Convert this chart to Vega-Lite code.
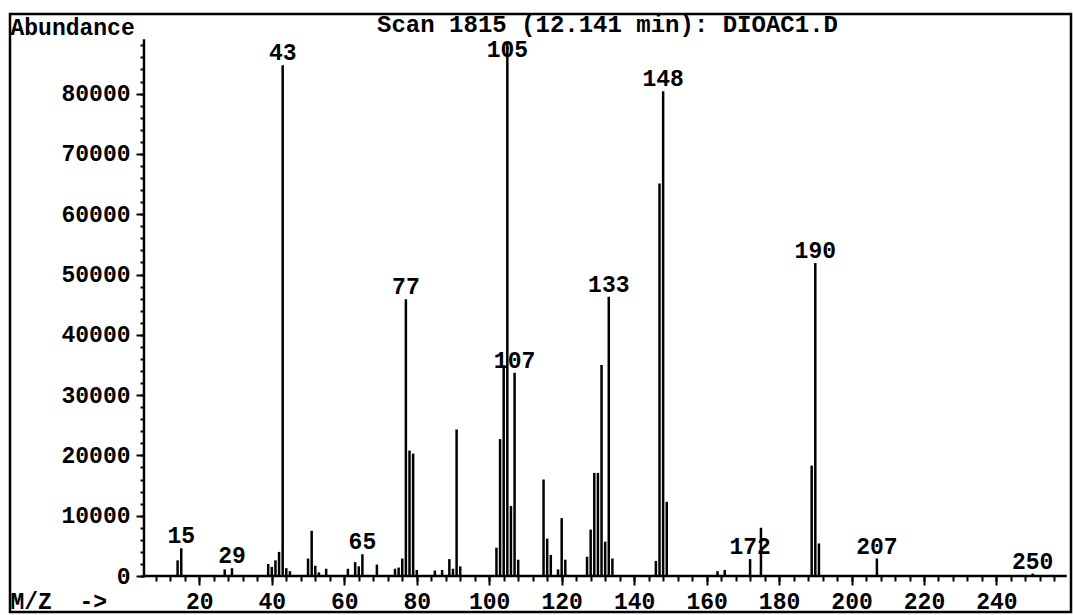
{
  "$schema": "https://vega.github.io/schema/vega-lite/v6.json",
  "width": 1061,
  "height": 598,
  "autosize": {"type": "none"},
  "padding": {"left": 10, "top": 14, "right": 2, "bottom": 3},
  "background": "white",
  "title": {"text": "Scan 1815 (12.141 min): DIOAC1.D", "anchor": "middle", "offset": -42, "baseline": "alphabetic", "dx": 67, "font": "Liberation Mono", "fontSize": 24, "fontWeight": "bold", "color": "black"},
  "config": {"view": {"stroke": "black", "strokeWidth": 2.5}},
  "resolve": {"axis": {"x": "independent", "y": "independent"}},
  "datasets": {
    "peaks": [
      {"mz": 14, "abundance": 2600, "labelled": false},
      {"mz": 15, "abundance": 4600, "labelled": true},
      {"mz": 27, "abundance": 1100, "labelled": false},
      {"mz": 29, "abundance": 1300, "labelled": true},
      {"mz": 39, "abundance": 2000, "labelled": false},
      {"mz": 40, "abundance": 1500, "labelled": false},
      {"mz": 41, "abundance": 2600, "labelled": false},
      {"mz": 42, "abundance": 4000, "labelled": false},
      {"mz": 43, "abundance": 84700, "labelled": true},
      {"mz": 44, "abundance": 1300, "labelled": false},
      {"mz": 45, "abundance": 800, "labelled": false},
      {"mz": 50, "abundance": 2900, "labelled": false},
      {"mz": 51, "abundance": 7500, "labelled": false},
      {"mz": 52, "abundance": 1700, "labelled": false},
      {"mz": 53, "abundance": 600, "labelled": false},
      {"mz": 55, "abundance": 1200, "labelled": false},
      {"mz": 61, "abundance": 1200, "labelled": false},
      {"mz": 63, "abundance": 2300, "labelled": false},
      {"mz": 64, "abundance": 1600, "labelled": false},
      {"mz": 65, "abundance": 3600, "labelled": true},
      {"mz": 69, "abundance": 1900, "labelled": false},
      {"mz": 74, "abundance": 1200, "labelled": false},
      {"mz": 75, "abundance": 1400, "labelled": false},
      {"mz": 76, "abundance": 2900, "labelled": false},
      {"mz": 77, "abundance": 45900, "labelled": true},
      {"mz": 78, "abundance": 20800, "labelled": false},
      {"mz": 79, "abundance": 20300, "labelled": false},
      {"mz": 80, "abundance": 1000, "labelled": false},
      {"mz": 85, "abundance": 900, "labelled": false},
      {"mz": 87, "abundance": 1000, "labelled": false},
      {"mz": 89, "abundance": 2800, "labelled": false},
      {"mz": 90, "abundance": 1200, "labelled": false},
      {"mz": 91, "abundance": 24300, "labelled": false},
      {"mz": 92, "abundance": 1600, "labelled": false},
      {"mz": 102, "abundance": 4700, "labelled": false},
      {"mz": 103, "abundance": 22700, "labelled": false},
      {"mz": 104, "abundance": 34900, "labelled": false},
      {"mz": 105, "abundance": 88500, "labelled": true},
      {"mz": 106, "abundance": 11600, "labelled": false},
      {"mz": 107, "abundance": 33700, "labelled": true},
      {"mz": 108, "abundance": 2700, "labelled": false},
      {"mz": 115, "abundance": 16000, "labelled": false},
      {"mz": 116, "abundance": 6200, "labelled": false},
      {"mz": 117, "abundance": 3500, "labelled": false},
      {"mz": 119, "abundance": 1100, "labelled": false},
      {"mz": 120, "abundance": 9600, "labelled": false},
      {"mz": 121, "abundance": 2700, "labelled": false},
      {"mz": 127, "abundance": 3200, "labelled": false},
      {"mz": 128, "abundance": 7700, "labelled": false},
      {"mz": 129, "abundance": 17100, "labelled": false},
      {"mz": 130, "abundance": 17100, "labelled": false},
      {"mz": 131, "abundance": 35000, "labelled": false},
      {"mz": 132, "abundance": 5700, "labelled": false},
      {"mz": 133, "abundance": 46300, "labelled": true},
      {"mz": 134, "abundance": 2900, "labelled": false},
      {"mz": 146, "abundance": 2500, "labelled": false},
      {"mz": 147, "abundance": 65100, "labelled": false},
      {"mz": 148, "abundance": 80400, "labelled": true},
      {"mz": 149, "abundance": 12300, "labelled": false},
      {"mz": 163, "abundance": 800, "labelled": false},
      {"mz": 165, "abundance": 1000, "labelled": false},
      {"mz": 172, "abundance": 2800, "labelled": true},
      {"mz": 175, "abundance": 8000, "labelled": false},
      {"mz": 189, "abundance": 18300, "labelled": false},
      {"mz": 190, "abundance": 51900, "labelled": true},
      {"mz": 191, "abundance": 5400, "labelled": false},
      {"mz": 207, "abundance": 2900, "labelled": true},
      {"mz": 250, "abundance": 400, "labelled": true}
    ]
  },
  "data": {"name": "peaks"},
  "layer": [
    {
      "mark": {"type": "rule", "strokeWidth": 2.5, "color": "black"},
      "encoding": {
        "x": {
          "field": "mz", "type": "quantitative",
          "scale": {"domain": [-32.26, 260.57], "nice": false, "zero": false},
          "axis": {
            "title": "M/Z\u00a0\u00a0->",
            "orient": "bottom",
            "offset": -36,
            "domain": false,
            "grid": false,
            "values": [20, 40, 60, 80, 100, 120, 140, 160, 180, 200, 220, 240],
            "tickSize": 9,
            "tickWidth": 2,
            "tickColor": "black",
            "labelFont": "Liberation Mono",
            "labelFontSize": 23,
            "labelFontWeight": "bold",
            "labelColor": "black",
            "labelBaseline": "alphabetic",
            "labelPadding": 23,
            "labelFlush": false,
            "labelOverlap": false,
            "labelBound": false,
            "titleFont": "Liberation Mono",
            "titleFontSize": 23,
            "titleFontWeight": "bold",
            "titleColor": "black",
            "titleX": 0,
            "titleY": 32,
            "titleAlign": "left",
            "titleAnchor": "start",
            "titleBaseline": "alphabetic"
          }
        },
        "y": {
          "field": "abundance", "type": "quantitative",
          "scale": {"domain": [-5970, 93201], "nice": false, "zero": false},
          "axis": {
            "title": "Abundance",
            "orient": "left",
            "offset": -134,
            "domain": false,
            "grid": false,
            "values": [0, 10000, 20000, 30000, 40000, 50000, 60000, 70000, 80000],
            "format": "d",
            "tickSize": 8,
            "tickWidth": 2,
            "tickColor": "black",
            "labelFont": "Liberation Mono",
            "labelFontSize": 23,
            "labelFontWeight": "bold",
            "labelColor": "black",
            "labelBaseline": "middle",
            "labelPadding": 6,
            "labelOverlap": false,
            "labelBound": false,
            "labelFlush": false,
            "titleFont": "Liberation Mono",
            "titleFontSize": 23,
            "titleFontWeight": "bold",
            "titleColor": "black",
            "titleAngle": 0,
            "titleX": -134,
            "titleY": 20,
            "titleAlign": "left",
            "titleAnchor": "start",
            "titleBaseline": "alphabetic"
          }
        },
        "y2": {"datum": 0}
      }
    },
    {
      "data": {"values": [{}]},
      "mark": {"type": "rule", "strokeWidth": 2.5, "color": "black"},
      "encoding": {
        "x": {"datum": 4.72, "axis": null},
        "y": {
          "datum": 0,
          "axis": {
            "orient": "left",
            "offset": -134,
            "title": null,
            "labels": false,
            "domain": false,
            "grid": false,
            "values": [0,2000,4000,6000,8000,10000,12000,14000,16000,18000,20000,22000,24000,26000,28000,30000,32000,34000,36000,38000,40000,42000,44000,46000,48000,50000,52000,54000,56000,58000,60000,62000,64000,66000,68000,70000,72000,74000,76000,78000,80000,82000,84000,86000,88000],
            "tickSize": 4,
            "tickWidth": 2,
            "tickColor": "black"
          }
        },
        "y2": {"datum": 89000}
      }
    },
    {
      "data": {"values": [{}]},
      "mark": {"type": "rule", "strokeWidth": 2.5, "color": "black"},
      "encoding": {
        "x": {
          "datum": 4.72,
          "axis": {
            "orient": "bottom",
            "offset": -36,
            "title": null,
            "labels": false,
            "domain": false,
            "grid": false,
            "values": [8,12,16,20,24,28,32,36,40,44,48,52,56,60,64,68,72,76,80,84,88,92,96,100,104,108,112,116,120,124,128,132,136,140,144,148,152,156,160,164,168,172,176,180,184,188,192,196,200,204,208,212,216,220,224,228,232,236,240,244,248,252,256],
            "tickSize": 5,
            "tickWidth": 2,
            "tickColor": "black"
          }
        },
        "x2": {"datum": 259.4},
        "y": {"datum": 0, "axis": null}
      }
    },
    {
      "transform": [{"filter": "datum.labelled && datum.mz !== 105"}],
      "mark": {"type": "text", "font": "Liberation Mono", "fontSize": 23, "fontWeight": "bold", "baseline": "alphabetic", "dy": -5, "color": "black"},
      "encoding": {
        "x": {"field": "mz", "type": "quantitative", "axis": null},
        "y": {"field": "abundance", "type": "quantitative", "axis": null},
        "text": {"field": "mz", "type": "quantitative"}
      }
    },
    {
      "transform": [{"filter": "datum.mz === 105"}],
      "mark": {"type": "text", "font": "Liberation Mono", "fontSize": 23, "fontWeight": "bold", "baseline": "alphabetic", "dy": 15, "color": "black"},
      "encoding": {
        "x": {"field": "mz", "type": "quantitative", "axis": null},
        "y": {"field": "abundance", "type": "quantitative", "axis": null},
        "text": {"field": "mz", "type": "quantitative"}
      }
    }
  ]
}
